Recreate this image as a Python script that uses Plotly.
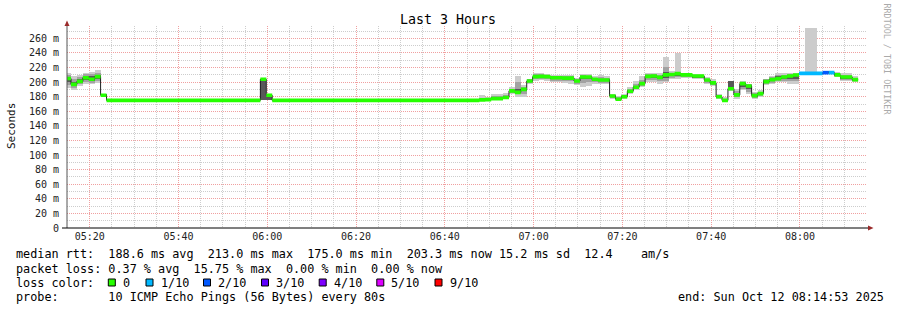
import pandas as pd
import plotly.graph_objects as go

# ---------------- data ----------------
first_step = "2025-10-12 05:14:27"
range_start = "2025-10-12 05:14:53"
range_end = "2025-10-12 08:14:53"
step_seconds = 80

median_ms = (
    [205, 197, 201, 206, 204, 207.5, 182]
    + [175] * 26
    + [204, 182]
    + [175] * 35
    + [175.6, 176, 177.5, 177.5, 179, 188, 186, 190, 201.6, 207.5,
       208, 207.5, 206, 206, 205.5, 205.5, 201.6, 207, 207, 204,
       203, 203, 181, 176.5, 180, 187.5, 193, 198, 208, 208.5,
       206.6, 210, 210.5, 211.6, 210, 210, 208.4, 208.4, 203, 199,
       180, 175, 191, 182.5, 198, 194.7, 181.6, 184.3, 200.7, 203.4,
       204.8, 207, 208.4, 209.8, 212, 212, 212, 212, 213, 213,
       210, 207, 207, 203.4]
    + [None]
)
loss_tenths = [0] * 124 + [1, 1, 1, 1, 2, 1] + [0] * 5

smoke_lo1 = ([192, 189, 195, 197, 197, 199, 180] + [None] * 26 + [175, 175] + [None] * 35 +
             [175, 175, 175, 176, 177, 184, 180, 180, 197, 202,
              203, 202, 200, 200, 199, 198, 196, 194, 195, 197,
              197, 197, 177, 174, 177, 184, 189, 193, 200, 200,
              198, 200, 205, 205, 206, 206, 205, 205, 198, 195,
              177, 175, 188, 177, 189, 184, 177.5, 180, 196, 198,
              200, 200, 198, 198, 210, 211, 211, 211, 212, 211,
              207, 201.5, 201.5, 200] + [None])
smoke_hi1 = ([213, 208, 210, 213, 214, 216, 184] + [None] * 26 + [205, 182] + [None] * 35 +
             [182, 179, 184, 184, 185, 194, 208, 196, 205, 212,
              212, 211, 210, 210, 210, 210, 206, 211, 211, 208,
              210, 209, 184, 181, 184, 193, 201, 208, 212, 212,
              212, 234, 215, 240, 213, 213, 211, 211, 207, 205,
              184, 179, 202, 191, 201.5, 198, 186.5, 189, 205, 209,
              212, 212, 212, 212, 214, 274, 274, 214, 215, 214,
              214, 212, 212, 208] + [None])
smoke_lo2 = ([196, 192, 197, 200, 199, 202, 181] + [None] * 26 + [175, 175] + [None] * 35 +
             [175, 175, 176, 177, 178, 185, 184, 184, 199, 204,
              205, 204, 202, 202, 201, 201, 198, 199, 200, 200,
              199, 199, 178, 175, 178, 185, 190, 195, 203, 203,
              201, 202, 206, 207, 207, 207, 206, 206, 199, 196,
              178, 175, 189, 179, 191, 186, 178, 181, 197, 199,
              201, 202, 201, 202, 211, 211, 211, 211, 212, 212,
              208, 203, 203, 201] + [None])
smoke_hi2 = ([210, 204, 207, 211, 211, 212, 183] + [None] * 26 + [205, 182] + [None] * 35 +
             [178, 177, 181, 181, 182, 191, 200, 193, 204, 211,
              211, 210, 209, 208, 208, 208, 204, 210, 209, 206,
              207, 206, 183, 179, 182, 191, 197, 203, 211, 211,
              210, 221, 213, 214, 212, 212, 210, 210, 205, 202,
              183, 177, 202, 188, 200, 197, 185, 187, 204, 207,
              210, 210, 211, 211, 213, 214, 214, 213, 214, 214,
              212, 210, 210, 206] + [None])
smoke_lo3 = ([200, 195, 199, 203, 202, 205, 181.5] + [None] * 26 + [175, 175] + [None] * 35 +
             [175.6, 176, 177, 177, 179, 187, 185, 188, 201, 206,
              207, 206, 204, 204, 204, 204, 200, 204, 204, 202,
              201, 201, 180, 176, 179, 186, 192, 197, 206, 206,
              204, 206, 208, 209, 208, 208, 207, 207, 201, 197,
              179, 175, 190, 181, 194, 190, 180, 183, 199, 201,
              203, 204, 204, 205, 211.5, 212, 212, 212, 213, 212,
              209, 205, 205, 202] + [None])
smoke_hi3 = ([207, 200, 204, 209, 208, 210, 182.5] + [None] * 26 + [205, 182] + [None] * 35 +
             [176, 176.5, 179, 179, 180, 189, 190, 191, 202, 209,
              209, 209, 207, 207, 207, 207, 203, 209, 208, 205,
              205, 205, 182, 177, 181, 189, 195, 200, 210, 210,
              209, 214, 212, 213, 211, 211, 209, 209, 204, 200,
              181, 176, 201.5, 185, 199, 196, 183, 186, 203, 205,
              208, 209, 210, 210, 212.5, 213, 213, 212.5, 214, 213,
              211, 209, 209, 205] + [None])

y_tickvals = [0, 20, 40, 60, 80, 100, 120, 140, 160, 180, 200, 220, 240, 260]
y_ticktext = ["0", "20 m", "40 m", "60 m", "80 m", "100 m", "120 m", "140 m",
              "160 m", "180 m", "200 m", "220 m", "240 m", "260 m"]

loss_labels = ["0", "1/10", "2/10", "3/10", "4/10", "5/10", "9/10"]
loss_colors = ["#26ff00", "#00b8ff", "#0059ff", "#5e00ff", "#7e00ff", "#dd00ff", "#ff0000"]

title_text = "Last 3 Hours"
ylabel_text = "Seconds"
credit_text = "RRDTOOL / TOBI OETIKER"
stat_line1 = "median rtt:  188.6 ms avg  213.0 ms max  175.0 ms min  203.3 ms now 15.2 ms sd  12.4    am/s"
stat_line2 = "packet loss: 0.37 % avg  15.75 % max  0.00 % min  0.00 % now"
loss_caption = "loss color:"
probe_text = "probe:       10 ICMP Echo Pings (56 Bytes) every 80s"
end_text = "end: Sun Oct 12 08:14:53 2025"

# ---------------- layout constants (pixels) ----------------
FIG_W, FIG_H = 897, 310
L, R, T, B = 67, 866, 26, 228
PW, PH = R - L, B - T
MONO = "DejaVu Sans Mono"
BAND_MS = 5.0
smoke_colors = ["#cccccc", "#a2a2a2", "#585858"]
swatch_px = [108.3, 146.0, 203.5, 261.5, 319.2, 376.8, 435.0]


def px_x(px):
    return (px - L) / PW


def px_y(py):
    return (B - py) / PH


def nb(s):
    return s.replace(" ", "\u00a0")


t0 = pd.Timestamp(first_step)
step = pd.Timedelta(seconds=step_seconds)
n = len(median_ms)
starts = [t0 + k * step for k in range(n)]
centers = [s + step / 2 for s in starts]

fig = go.Figure()


def add_smoke(lo, hi, color):
    xs, bases, hs = [], [], []
    for c, a, b in zip(centers, lo, hi):
        if a is None or b is None:
            continue
        xs.append(c)
        bases.append(a)
        hs.append(b - a)
    fig.add_trace(go.Bar(x=xs, y=hs, base=bases, width=step_seconds * 1000,
                         marker=dict(color=color, line=dict(width=0)),
                         hoverinfo="skip", showlegend=False))


add_smoke(smoke_lo1, smoke_hi1, smoke_colors[0])
add_smoke(smoke_lo2, smoke_hi2, smoke_colors[1])
add_smoke(smoke_lo3, smoke_hi3, smoke_colors[2])

valid = [k for k in range(n) if median_ms[k] is not None]
lx = [starts[k] for k in valid] + [starts[valid[-1]] + step]
ly = [median_ms[k] for k in valid] + [median_ms[valid[-1]]]
fig.add_trace(go.Scatter(x=lx, y=ly, mode="lines",
                         line=dict(color="#202020", width=1, shape="hv"),
                         hoverinfo="skip", showlegend=False))

for lvl in sorted(set(loss_tenths)):
    xs, ys = [], []
    for k in valid:
        if loss_tenths[k] != lvl:
            continue
        x0, x1 = starts[k], starts[k] + step
        lo, hi = median_ms[k] - BAND_MS / 2, median_ms[k] + BAND_MS / 2
        xs += [x0, x1, x1, x0, x0, None]
        ys += [lo, lo, hi, hi, lo, None]
    fig.add_trace(go.Scatter(x=xs, y=ys, mode="lines", fill="toself",
                             fillcolor=loss_colors[lvl], line=dict(width=0, color=loss_colors[lvl]),
                             hoverinfo="skip", showlegend=False))

grid_major = "#f0a0a0"
grid_minor = "#cdcdcd"

fig.update_layout(
    width=FIG_W, height=FIG_H, autosize=False,
    margin=dict(l=L, r=FIG_W - R, t=T, b=FIG_H - B, pad=0),
    paper_bgcolor="white", plot_bgcolor="white",
    barmode="overlay", bargap=0, showlegend=False,
    xaxis=dict(
        type="date", range=[range_start, range_end],
        tick0="2025-10-12 05:20:00", dtick=20 * 60 * 1000, tickformat="%H:%M",
        showgrid=True, gridcolor=grid_major, griddash="1px,1px", gridwidth=1,
        minor=dict(dtick=5 * 60 * 1000, showgrid=True, gridcolor=grid_minor,
                   griddash="1px,1px", gridwidth=1),
        zeroline=False, showline=False, ticks="",
        tickfont=dict(family=MONO, size=10, color="#222"),
        ticklabelstandoff=1,
    ),
    yaxis=dict(
        range=[0, 277], tickmode="array", tickvals=y_tickvals, ticktext=y_ticktext,
        showgrid=True, gridcolor=grid_major, griddash="1px,1px", gridwidth=1,
        minor=dict(dtick=10, showgrid=True, gridcolor=grid_minor,
                   griddash="1px,1px", gridwidth=1),
        zeroline=False, showline=False, ticks="",
        tickfont=dict(family=MONO, size=10, color="#222"),
        ticklabelstandoff=7,
    ),
)

shapes = []
# axes
shapes.append(dict(type="line", xref="paper", yref="paper", x0=px_x(67), x1=px_x(67),
                   y0=px_y(228), y1=px_y(23), line=dict(color="#555", width=1)))
shapes.append(dict(type="line", xref="paper", yref="paper", x0=px_x(62), x1=px_x(869),
                   y0=0, y1=0, line=dict(color="#000", width=1)))
# arrows
shapes.append(dict(type="path", xref="paper", yref="paper",
                   path=f"M {px_x(64.5)},{px_y(26)} L {px_x(69.5)},{px_y(26)} L {px_x(67)},{px_y(20.5)} Z",
                   fillcolor="#9a2a2a", line=dict(width=0)))
shapes.append(dict(type="path", xref="paper", yref="paper",
                   path=f"M {px_x(868)},{px_y(225.5)} L {px_x(868)},{px_y(230.5)} L {px_x(873.5)},{px_y(228)} Z",
                   fillcolor="#9a2a2a", line=dict(width=0)))
# legend swatches
for sx, col in zip(swatch_px, loss_colors):
    shapes.append(dict(type="rect", xref="paper", yref="paper",
                       x0=px_x(sx), x1=px_x(sx + 7), y0=px_y(286), y1=px_y(279),
                       fillcolor=col, line=dict(color="#000", width=1)))
fig.update_layout(shapes=shapes)


def ann(text, px, py, size=11.8, color="#000", xanchor="left", angle=0):
    fig.add_annotation(text=nb(text), x=px_x(px), y=px_y(py), xref="paper", yref="paper",
                       xanchor=xanchor, yanchor="middle", showarrow=False,
                       font=dict(family=MONO, size=size, color=color),
                       textangle=angle, borderpad=0, borderwidth=0)


ann(title_text, 448, 19.5, size=13.3, xanchor="center")
ann(ylabel_text, 11, 126, size=11, xanchor="center", angle=-90, color="#111")
ann(credit_text, 886.5, 59, size=8.4, xanchor="center", angle=90, color="#aaaaaa")
ann(stat_line1, 16, 254.5)
ann(stat_line2, 16, 268.5)
ann(loss_caption, 16, 282.5)
for sx, lab in zip(swatch_px, loss_labels):
    ann(lab, sx + 14.5, 282.5)
ann(probe_text, 16, 296.5)
ann(end_text, 678, 296.5)

fig.write_html("out.html", include_plotlyjs=True, config={"displayModeBar": False})
